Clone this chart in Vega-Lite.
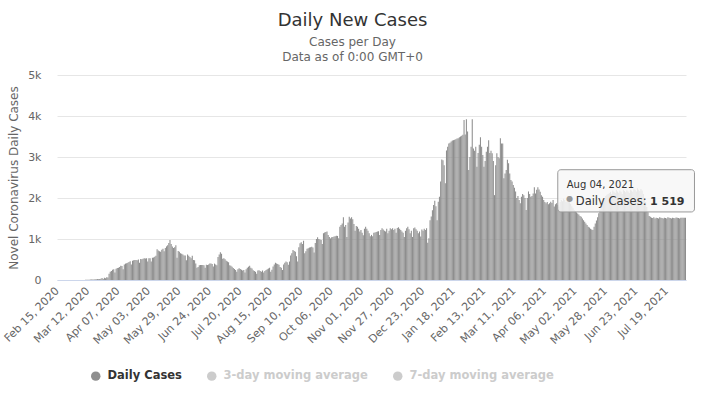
{
  "$schema": "https://vega.github.io/schema/vega-lite/v6.json",
  "autosize": "none",
  "width": 629,
  "height": 205,
  "padding": {"left": 57, "top": 75, "right": 20, "bottom": 118},
  "background": "#ffffff",
  "config": {
    "font": "DejaVu Sans",
    "view": {"stroke": null}
  },
  "title": {
    "text": "Daily New Cases",
    "subtitle": ["Cases per Day", "Data as of 0:00 GMT+0"],
    "fontSize": 18,
    "fontWeight": "normal",
    "color": "#333333",
    "subtitleFontSize": 12,
    "subtitleColor": "#666666",
    "subtitlePadding": 7,
    "subtitleLineHeight": 15,
    "anchor": "middle",
    "dx": -19,
    "offset": 6
  },
  "data": {"values": [
    {"d":"2020-02-15","v":0},{"d":"2020-02-16","v":0},{"d":"2020-02-17","v":0},{"d":"2020-02-18","v":0},{"d":"2020-02-19","v":0},{"d":"2020-02-20","v":0},{"d":"2020-02-21","v":0},{"d":"2020-02-22","v":0},{"d":"2020-02-23","v":0},{"d":"2020-02-24","v":0},{"d":"2020-02-25","v":0},{"d":"2020-02-26","v":0},{"d":"2020-02-27","v":0},{"d":"2020-02-28","v":0},{"d":"2020-02-29","v":0},
    {"d":"2020-03-01","v":0},{"d":"2020-03-02","v":0},{"d":"2020-03-03","v":0},{"d":"2020-03-04","v":0},{"d":"2020-03-05","v":1},{"d":"2020-03-06","v":2},{"d":"2020-03-07","v":1},{"d":"2020-03-08","v":3},{"d":"2020-03-09","v":2},{"d":"2020-03-10","v":5},{"d":"2020-03-11","v":4},{"d":"2020-03-12","v":6},{"d":"2020-03-13","v":8},{"d":"2020-03-14","v":10},{"d":"2020-03-15","v":12},{"d":"2020-03-16","v":15},{"d":"2020-03-17","v":14},{"d":"2020-03-18","v":18},{"d":"2020-03-19","v":20},{"d":"2020-03-20","v":22},{"d":"2020-03-21","v":20},{"d":"2020-03-22","v":25},{"d":"2020-03-23","v":30},{"d":"2020-03-24","v":50},{"d":"2020-03-25","v":25},{"d":"2020-03-26","v":55},{"d":"2020-03-27","v":45},{"d":"2020-03-28","v":70},{"d":"2020-03-29","v":60},{"d":"2020-03-30","v":150},{"d":"2020-03-31","v":200},
    {"d":"2020-04-01","v":220},{"d":"2020-04-02","v":250},{"d":"2020-04-03","v":260},{"d":"2020-04-04","v":180},{"d":"2020-04-05","v":275},{"d":"2020-04-06","v":290},{"d":"2020-04-07","v":300},{"d":"2020-04-08","v":320},{"d":"2020-04-09","v":350},{"d":"2020-04-10","v":340},{"d":"2020-04-11","v":260},{"d":"2020-04-12","v":380},{"d":"2020-04-13","v":400},{"d":"2020-04-14","v":410},{"d":"2020-04-15","v":420},{"d":"2020-04-16","v":440},{"d":"2020-04-17","v":460},{"d":"2020-04-18","v":380},{"d":"2020-04-19","v":470},{"d":"2020-04-20","v":480},{"d":"2020-04-21","v":490},{"d":"2020-04-22","v":490},{"d":"2020-04-23","v":480},{"d":"2020-04-24","v":500},{"d":"2020-04-25","v":420},{"d":"2020-04-26","v":510},{"d":"2020-04-27","v":505},{"d":"2020-04-28","v":520},{"d":"2020-04-29","v":530},{"d":"2020-04-30","v":525},
    {"d":"2020-05-01","v":530},{"d":"2020-05-02","v":450},{"d":"2020-05-03","v":530},{"d":"2020-05-04","v":530},{"d":"2020-05-05","v":450},{"d":"2020-05-06","v":540},{"d":"2020-05-07","v":550},{"d":"2020-05-08","v":570},{"d":"2020-05-09","v":590},{"d":"2020-05-10","v":750},{"d":"2020-05-11","v":720},{"d":"2020-05-12","v":700},{"d":"2020-05-13","v":690},{"d":"2020-05-14","v":740},{"d":"2020-05-15","v":760},{"d":"2020-05-16","v":700},{"d":"2020-05-17","v":780},{"d":"2020-05-18","v":820},{"d":"2020-05-19","v":850},{"d":"2020-05-20","v":900},{"d":"2020-05-21","v":975},{"d":"2020-05-22","v":880},{"d":"2020-05-23","v":820},{"d":"2020-05-24","v":780},{"d":"2020-05-25","v":800},{"d":"2020-05-26","v":850},{"d":"2020-05-27","v":545},{"d":"2020-05-28","v":710},{"d":"2020-05-29","v":690},{"d":"2020-05-30","v":650},{"d":"2020-05-31","v":640},
    {"d":"2020-06-01","v":625},{"d":"2020-06-02","v":600},{"d":"2020-06-03","v":595},{"d":"2020-06-04","v":480},{"d":"2020-06-05","v":620},{"d":"2020-06-06","v":590},{"d":"2020-06-07","v":560},{"d":"2020-06-08","v":530},{"d":"2020-06-09","v":590},{"d":"2020-06-10","v":490},{"d":"2020-06-11","v":480},{"d":"2020-06-12","v":400},{"d":"2020-06-13","v":300},{"d":"2020-06-14","v":320},{"d":"2020-06-15","v":360},{"d":"2020-06-16","v":365},{"d":"2020-06-17","v":365},{"d":"2020-06-18","v":365},{"d":"2020-06-19","v":360},{"d":"2020-06-20","v":300},{"d":"2020-06-21","v":370},{"d":"2020-06-22","v":365},{"d":"2020-06-23","v":380},{"d":"2020-06-24","v":400},{"d":"2020-06-25","v":405},{"d":"2020-06-26","v":390},{"d":"2020-06-27","v":330},{"d":"2020-06-28","v":400},{"d":"2020-06-29","v":380},{"d":"2020-06-30","v":360},
    {"d":"2020-07-01","v":560},{"d":"2020-07-02","v":620},{"d":"2020-07-03","v":675},{"d":"2020-07-04","v":640},{"d":"2020-07-05","v":520},{"d":"2020-07-06","v":530},{"d":"2020-07-07","v":505},{"d":"2020-07-08","v":470},{"d":"2020-07-09","v":450},{"d":"2020-07-10","v":430},{"d":"2020-07-11","v":360},{"d":"2020-07-12","v":350},{"d":"2020-07-13","v":325},{"d":"2020-07-14","v":290},{"d":"2020-07-15","v":270},{"d":"2020-07-16","v":245},{"d":"2020-07-17","v":200},{"d":"2020-07-18","v":260},{"d":"2020-07-19","v":285},{"d":"2020-07-20","v":270},{"d":"2020-07-21","v":250},{"d":"2020-07-22","v":230},{"d":"2020-07-23","v":245},{"d":"2020-07-24","v":180},{"d":"2020-07-25","v":260},{"d":"2020-07-26","v":300},{"d":"2020-07-27","v":325},{"d":"2020-07-28","v":350},{"d":"2020-07-29","v":300},{"d":"2020-07-30","v":280},{"d":"2020-07-31","v":240},
    {"d":"2020-08-01","v":220},{"d":"2020-08-02","v":200},{"d":"2020-08-03","v":150},{"d":"2020-08-04","v":230},{"d":"2020-08-05","v":240},{"d":"2020-08-06","v":220},{"d":"2020-08-07","v":200},{"d":"2020-08-08","v":230},{"d":"2020-08-09","v":180},{"d":"2020-08-10","v":220},{"d":"2020-08-11","v":245},{"d":"2020-08-12","v":260},{"d":"2020-08-13","v":280},{"d":"2020-08-14","v":300},{"d":"2020-08-15","v":200},{"d":"2020-08-16","v":250},{"d":"2020-08-17","v":330},{"d":"2020-08-18","v":380},{"d":"2020-08-19","v":420},{"d":"2020-08-20","v":400},{"d":"2020-08-21","v":390},{"d":"2020-08-22","v":370},{"d":"2020-08-23","v":320},{"d":"2020-08-24","v":300},{"d":"2020-08-25","v":245},{"d":"2020-08-26","v":380},{"d":"2020-08-27","v":420},{"d":"2020-08-28","v":450},{"d":"2020-08-29","v":430},{"d":"2020-08-30","v":370},{"d":"2020-08-31","v":450},
    {"d":"2020-09-01","v":600},{"d":"2020-09-02","v":650},{"d":"2020-09-03","v":730},{"d":"2020-09-04","v":710},{"d":"2020-09-05","v":690},{"d":"2020-09-06","v":580},{"d":"2020-09-07","v":450},{"d":"2020-09-08","v":800},{"d":"2020-09-09","v":895},{"d":"2020-09-10","v":920},{"d":"2020-09-11","v":880},{"d":"2020-09-12","v":960},{"d":"2020-09-13","v":650},{"d":"2020-09-14","v":700},{"d":"2020-09-15","v":760},{"d":"2020-09-16","v":775},{"d":"2020-09-17","v":790},{"d":"2020-09-18","v":800},{"d":"2020-09-19","v":810},{"d":"2020-09-20","v":790},{"d":"2020-09-21","v":670},{"d":"2020-09-22","v":900},{"d":"2020-09-23","v":1000},{"d":"2020-09-24","v":1040},{"d":"2020-09-25","v":1000},{"d":"2020-09-26","v":990},{"d":"2020-09-27","v":975},{"d":"2020-09-28","v":880},{"d":"2020-09-29","v":1140},{"d":"2020-09-30","v":1160},
    {"d":"2020-10-01","v":1170},{"d":"2020-10-02","v":1180},{"d":"2020-10-03","v":1100},{"d":"2020-10-04","v":1050},{"d":"2020-10-05","v":1015},{"d":"2020-10-06","v":1040},{"d":"2020-10-07","v":1050},{"d":"2020-10-08","v":1060},{"d":"2020-10-09","v":1070},{"d":"2020-10-10","v":1080},{"d":"2020-10-11","v":1075},{"d":"2020-10-12","v":1020},{"d":"2020-10-13","v":1300},{"d":"2020-10-14","v":1340},{"d":"2020-10-15","v":1380},{"d":"2020-10-16","v":1530},{"d":"2020-10-17","v":1300},{"d":"2020-10-18","v":1340},{"d":"2020-10-19","v":1050},{"d":"2020-10-20","v":1400},{"d":"2020-10-21","v":1545},{"d":"2020-10-22","v":1500},{"d":"2020-10-23","v":1530},{"d":"2020-10-24","v":1480},{"d":"2020-10-25","v":1365},{"d":"2020-10-26","v":1200},{"d":"2020-10-27","v":1320},{"d":"2020-10-28","v":1300},{"d":"2020-10-29","v":1250},{"d":"2020-10-30","v":1180},{"d":"2020-10-31","v":1220},
    {"d":"2020-11-01","v":1150},{"d":"2020-11-02","v":1090},{"d":"2020-11-03","v":1250},{"d":"2020-11-04","v":1300},{"d":"2020-11-05","v":1250},{"d":"2020-11-06","v":1200},{"d":"2020-11-07","v":1140},{"d":"2020-11-08","v":1070},{"d":"2020-11-09","v":1100},{"d":"2020-11-10","v":1070},{"d":"2020-11-11","v":1155},{"d":"2020-11-12","v":1160},{"d":"2020-11-13","v":1170},{"d":"2020-11-14","v":1180},{"d":"2020-11-15","v":1190},{"d":"2020-11-16","v":1100},{"d":"2020-11-17","v":1220},{"d":"2020-11-18","v":1260},{"d":"2020-11-19","v":1230},{"d":"2020-11-20","v":1200},{"d":"2020-11-21","v":1180},{"d":"2020-11-22","v":1250},{"d":"2020-11-23","v":1140},{"d":"2020-11-24","v":1200},{"d":"2020-11-25","v":1260},{"d":"2020-11-26","v":1240},{"d":"2020-11-27","v":1260},{"d":"2020-11-28","v":1220},{"d":"2020-11-29","v":1250},{"d":"2020-11-30","v":1150},
    {"d":"2020-12-01","v":1270},{"d":"2020-12-02","v":1285},{"d":"2020-12-03","v":1250},{"d":"2020-12-04","v":1220},{"d":"2020-12-05","v":1180},{"d":"2020-12-06","v":1150},{"d":"2020-12-07","v":1050},{"d":"2020-12-08","v":1200},{"d":"2020-12-09","v":1260},{"d":"2020-12-10","v":1300},{"d":"2020-12-11","v":1240},{"d":"2020-12-12","v":1140},{"d":"2020-12-13","v":1200},{"d":"2020-12-14","v":1050},{"d":"2020-12-15","v":1260},{"d":"2020-12-16","v":1280},{"d":"2020-12-17","v":1240},{"d":"2020-12-18","v":1200},{"d":"2020-12-19","v":1140},{"d":"2020-12-20","v":1180},{"d":"2020-12-21","v":1060},{"d":"2020-12-22","v":1230},{"d":"2020-12-23","v":1200},{"d":"2020-12-24","v":1250},{"d":"2020-12-25","v":1220},{"d":"2020-12-26","v":1260},{"d":"2020-12-27","v":910},{"d":"2020-12-28","v":1020},{"d":"2020-12-29","v":1460},{"d":"2020-12-30","v":1550},{"d":"2020-12-31","v":1700},
    {"d":"2021-01-01","v":1830},{"d":"2021-01-02","v":1935},{"d":"2021-01-03","v":1800},{"d":"2021-01-04","v":1460},{"d":"2021-01-05","v":1910},{"d":"2021-01-06","v":2030},{"d":"2021-01-07","v":2400},{"d":"2021-01-08","v":2940},{"d":"2021-01-09","v":2920},{"d":"2021-01-10","v":2800},{"d":"2021-01-11","v":2360},{"d":"2021-01-12","v":3160},{"d":"2021-01-13","v":3250},{"d":"2021-01-14","v":3330},{"d":"2021-01-15","v":3350},{"d":"2021-01-16","v":3380},{"d":"2021-01-17","v":3400},{"d":"2021-01-18","v":3410},{"d":"2021-01-19","v":3420},{"d":"2021-01-20","v":3430},{"d":"2021-01-21","v":3450},{"d":"2021-01-22","v":3460},{"d":"2021-01-23","v":3480},{"d":"2021-01-24","v":3500},{"d":"2021-01-25","v":3520},{"d":"2021-01-26","v":3540},{"d":"2021-01-27","v":3900},{"d":"2021-01-28","v":3550},{"d":"2021-01-29","v":3920},{"d":"2021-01-30","v":3620},{"d":"2021-01-31","v":2680},
    {"d":"2021-02-01","v":3000},{"d":"2021-02-02","v":3250},{"d":"2021-02-03","v":3920},{"d":"2021-02-04","v":3210},{"d":"2021-02-05","v":3150},{"d":"2021-02-06","v":3250},{"d":"2021-02-07","v":2760},{"d":"2021-02-08","v":3100},{"d":"2021-02-09","v":3300},{"d":"2021-02-10","v":3480},{"d":"2021-02-11","v":3250},{"d":"2021-02-12","v":3050},{"d":"2021-02-13","v":2760},{"d":"2021-02-14","v":2900},{"d":"2021-02-15","v":3130},{"d":"2021-02-16","v":3250},{"d":"2021-02-17","v":3410},{"d":"2021-02-18","v":3100},{"d":"2021-02-19","v":3150},{"d":"2021-02-20","v":3090},{"d":"2021-02-21","v":2900},{"d":"2021-02-22","v":2070},{"d":"2021-02-23","v":2800},{"d":"2021-02-24","v":3090},{"d":"2021-02-25","v":3000},{"d":"2021-02-26","v":2970},{"d":"2021-02-27","v":3460},{"d":"2021-02-28","v":3330},
    {"d":"2021-03-01","v":3330},{"d":"2021-03-02","v":2480},{"d":"2021-03-03","v":2600},{"d":"2021-03-04","v":2680},{"d":"2021-03-05","v":2930},{"d":"2021-03-06","v":2850},{"d":"2021-03-07","v":2600},{"d":"2021-03-08","v":2440},{"d":"2021-03-09","v":2400},{"d":"2021-03-10","v":2320},{"d":"2021-03-11","v":2250},{"d":"2021-03-12","v":2160},{"d":"2021-03-13","v":2000},{"d":"2021-03-14","v":2050},{"d":"2021-03-15","v":1950},{"d":"2021-03-16","v":1870},{"d":"2021-03-17","v":2030},{"d":"2021-03-18","v":2100},{"d":"2021-03-19","v":2070},{"d":"2021-03-20","v":2000},{"d":"2021-03-21","v":1710},{"d":"2021-03-22","v":2000},{"d":"2021-03-23","v":2160},{"d":"2021-03-24","v":2100},{"d":"2021-03-25","v":2030},{"d":"2021-03-26","v":2050},{"d":"2021-03-27","v":2110},{"d":"2021-03-28","v":2260},{"d":"2021-03-29","v":2110},{"d":"2021-03-30","v":2200},{"d":"2021-03-31","v":2260},
    {"d":"2021-04-01","v":2210},{"d":"2021-04-02","v":2150},{"d":"2021-04-03","v":2070},{"d":"2021-04-04","v":2030},{"d":"2021-04-05","v":1950},{"d":"2021-04-06","v":1900},{"d":"2021-04-07","v":1870},{"d":"2021-04-08","v":1900},{"d":"2021-04-09","v":1850},{"d":"2021-04-10","v":1870},{"d":"2021-04-11","v":1910},{"d":"2021-04-12","v":1880},{"d":"2021-04-13","v":1950},{"d":"2021-04-14","v":1790},{"d":"2021-04-15","v":1850},{"d":"2021-04-16","v":1870},{"d":"2021-04-17","v":1830},{"d":"2021-04-18","v":1790},{"d":"2021-04-19","v":1900},{"d":"2021-04-20","v":1950},{"d":"2021-04-21","v":1920},{"d":"2021-04-22","v":1980},{"d":"2021-04-23","v":1950},{"d":"2021-04-24","v":1900},{"d":"2021-04-25","v":1970},{"d":"2021-04-26","v":1940},{"d":"2021-04-27","v":1900},{"d":"2021-04-28","v":1860},{"d":"2021-04-29","v":1800},{"d":"2021-04-30","v":1750},
    {"d":"2021-05-01","v":1700},{"d":"2021-05-02","v":1680},{"d":"2021-05-03","v":1650},{"d":"2021-05-04","v":1620},{"d":"2021-05-05","v":1600},{"d":"2021-05-06","v":1560},{"d":"2021-05-07","v":1540},{"d":"2021-05-08","v":1500},{"d":"2021-05-09","v":1460},{"d":"2021-05-10","v":1420},{"d":"2021-05-11","v":1380},{"d":"2021-05-12","v":1340},{"d":"2021-05-13","v":1300},{"d":"2021-05-14","v":1280},{"d":"2021-05-15","v":1250},{"d":"2021-05-16","v":1230},{"d":"2021-05-17","v":1220},{"d":"2021-05-18","v":1300},{"d":"2021-05-19","v":1380},{"d":"2021-05-20","v":1450},{"d":"2021-05-21","v":1530},{"d":"2021-05-22","v":1630},{"d":"2021-05-23","v":1720},{"d":"2021-05-24","v":1800},{"d":"2021-05-25","v":1880},{"d":"2021-05-26","v":1950},{"d":"2021-05-27","v":2000},{"d":"2021-05-28","v":2050},{"d":"2021-05-29","v":2080},{"d":"2021-05-30","v":2100},{"d":"2021-05-31","v":2120},
    {"d":"2021-06-01","v":2150},{"d":"2021-06-02","v":2100},{"d":"2021-06-03","v":2180},{"d":"2021-06-04","v":2150},{"d":"2021-06-05","v":2120},{"d":"2021-06-06","v":2200},{"d":"2021-06-07","v":2160},{"d":"2021-06-08","v":2130},{"d":"2021-06-09","v":2180},{"d":"2021-06-10","v":2150},{"d":"2021-06-11","v":2100},{"d":"2021-06-12","v":2200},{"d":"2021-06-13","v":2170},{"d":"2021-06-14","v":2140},{"d":"2021-06-15","v":2190},{"d":"2021-06-16","v":2160},{"d":"2021-06-17","v":2120},{"d":"2021-06-18","v":2200},{"d":"2021-06-19","v":2180},{"d":"2021-06-20","v":2150},{"d":"2021-06-21","v":2230},{"d":"2021-06-22","v":2200},{"d":"2021-06-23","v":2160},{"d":"2021-06-24","v":2240},{"d":"2021-06-25","v":2200},{"d":"2021-06-26","v":2170},{"d":"2021-06-27","v":2220},{"d":"2021-06-28","v":2180},{"d":"2021-06-29","v":2100},{"d":"2021-06-30","v":2000},
    {"d":"2021-07-01","v":1900},{"d":"2021-07-02","v":1780},{"d":"2021-07-03","v":1650},{"d":"2021-07-04","v":1560},{"d":"2021-07-05","v":1540},{"d":"2021-07-06","v":1520},{"d":"2021-07-07","v":1510},{"d":"2021-07-08","v":1530},{"d":"2021-07-09","v":1500},{"d":"2021-07-10","v":1520},{"d":"2021-07-11","v":1510},{"d":"2021-07-12","v":1500},{"d":"2021-07-13","v":1530},{"d":"2021-07-14","v":1520},{"d":"2021-07-15","v":1510},{"d":"2021-07-16","v":1500},{"d":"2021-07-17","v":1520},{"d":"2021-07-18","v":1510},{"d":"2021-07-19","v":1500},{"d":"2021-07-20","v":1530},{"d":"2021-07-21","v":1520},{"d":"2021-07-22","v":1510},{"d":"2021-07-23","v":1500},{"d":"2021-07-24","v":1520},{"d":"2021-07-25","v":1515},{"d":"2021-07-26","v":1505},{"d":"2021-07-27","v":1525},{"d":"2021-07-28","v":1520},{"d":"2021-07-29","v":1510},{"d":"2021-07-30","v":1500},{"d":"2021-07-31","v":1520},
    {"d":"2021-08-01","v":1519},{"d":"2021-08-02","v":1519},{"d":"2021-08-03","v":1519},{"d":"2021-08-04","v":1519}
  ]},
  "layer": [
    {
      "mark": {"type": "bar"},
      "encoding": {
        "x": {
          "field": "d",
          "type": "ordinal",
          "scale": {"paddingInner": 0.1, "paddingOuter": 0},
          "axis": {
            "title": null,
            "values": ["2020-02-15","2020-03-12","2020-04-07","2020-05-03","2020-05-29","2020-06-24","2020-07-20","2020-08-15","2020-09-10","2020-10-06","2020-11-01","2020-11-27","2020-12-23","2021-01-18","2021-02-13","2021-03-11","2021-04-06","2021-05-02","2021-05-28","2021-06-23","2021-07-19"],
            "labelExpr": "utcFormat(toDate(datum.value), '%b %d, %Y')",
            "labelAngle": -45,
            "labelAlign": "right",
            "labelBaseline": "middle",
            "labelFontSize": 11,
            "labelColor": "#666666",
            "labelPadding": 9,
            "labelOverlap": false,
            "labelBound": false,
            "ticks": false,
            "grid": false,
            "domainColor": "#ccd6eb",
            "domainWidth": 1
          }
        },
        "y": {
          "field": "v",
          "type": "quantitative",
          "scale": {"domain": [0, 5000], "nice": false},
          "axis": {
            "title": "Novel Coronavirus Daily Cases",
            "titleFontSize": 12,
            "titleFontWeight": "normal",
            "titleColor": "#666666",
            "titlePadding": 7,
            "values": [0, 1000, 2000, 3000, 4000, 5000],
            "labelExpr": "datum.value == 0 ? '0' : (datum.value / 1000) + 'k'",
            "labelFontSize": 11,
            "labelColor": "#666666",
            "labelPadding": 16,
            "ticks": false,
            "domain": false,
            "gridColor": "#e6e6e6",
            "gridWidth": 1
          }
        },
        "color": {
          "datum": "Daily Cases",
          "scale": {
            "domain": ["Daily Cases", "3-day moving average", "7-day moving average"],
            "range": ["#8e8e8e", "#cccccc", "#cccccc"]
          },
          "legend": {
            "orient": "none",
            "legendX": 33,
            "legendY": 295,
            "direction": "horizontal",
            "title": null,
            "symbolType": "circle",
            "symbolSize": 90,
            "symbolStrokeWidth": 0,
            "labelFontSize": 11.5,
            "labelFontWeight": "bold",
            "labelColor": {"expr": "datum.label == 'Daily Cases' ? '#333333' : '#cccccc'"},
            "labelOffset": 6,
            "columnPadding": 24,
            "padding": 0
          }
        }
      }
    },
    {
      "data": {"values": [{"d": "2021-08-04", "v": 1519}]},
      "mark": {"type": "rect", "fill": "#f7f7f7", "fillOpacity": 0.85, "stroke": "#999999", "strokeWidth": 1, "cornerRadius": 3, "x2Offset": 9},
      "encoding": {
        "x": {"datum": "2021-04-17"},
        "x2": {"datum": "2021-08-04"},
        "y": {"datum": 2690},
        "y2": {"datum": 1660}
      }
    },
    {
      "data": {"values": [{"d": "2021-08-04", "v": 1519}]},
      "mark": {"type": "text", "text": "Aug 04, 2021", "align": "left", "baseline": "alphabetic", "fontSize": 10, "fill": "#333333", "dx": 9},
      "encoding": {
        "x": {"datum": "2021-04-17"},
        "y": {"datum": 2244}
      }
    },
    {
      "data": {"values": [{"d": "2021-08-04", "v": 1519}]},
      "mark": {"type": "text", "text": "●", "align": "center", "baseline": "middle", "fontSize": 8, "fill": "#999999", "dx": 12},
      "encoding": {
        "x": {"datum": "2021-04-17"},
        "y": {"datum": 1975}
      }
    },
    {
      "data": {"values": [{"d": "2021-08-04", "v": 1519}]},
      "mark": {"type": "text", "text": "Daily Cases:", "align": "left", "baseline": "alphabetic", "fontSize": 11.5, "fill": "#333333", "dx": 18},
      "encoding": {
        "x": {"datum": "2021-04-17"},
        "y": {"datum": 1830}
      }
    },
    {
      "data": {"values": [{"d": "2021-08-04", "v": 1519}]},
      "mark": {"type": "text", "text": "1 519", "align": "right", "baseline": "alphabetic", "fontSize": 11, "fontWeight": "bold", "fill": "#333333", "dx": -1},
      "encoding": {
        "x": {"field": "d", "type": "ordinal"},
        "y": {"datum": 1830}
      }
    }
  ]
}
